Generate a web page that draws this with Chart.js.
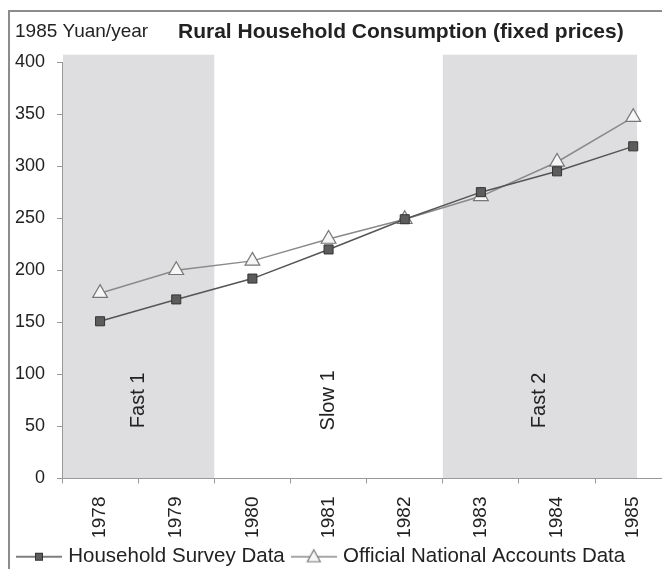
<!DOCTYPE html>
<html><head><meta charset="utf-8">
<script src="https://cdn.jsdelivr.net/npm/chart.js@4/dist/chart.umd.min.js"></script>
<style>
html,body{margin:0;padding:0;overflow:hidden;background:#fff;width:662px;height:569px;}
#frame{position:absolute;left:8px;top:10px;width:700px;height:600px;border:2px solid #8c8c8c;box-sizing:border-box;}
#c{position:absolute;left:0;top:0;}
</style></head><body>
<div id="frame"></div>
<canvas id="c" width="681" height="577"></canvas>
<script>
// ---- data ----
const years = ['1978','1979','1980','1981','1982','1983','1984','1985'];
const householdSurvey = [151, 172, 192, 220, 249, 275, 295, 319];
const officialAccounts = [178, 200, 209, 230, 249, 271, 304, 347];
const seriesNames = ['Household Survey Data', 'Official National Accounts Data'];
const yMin = 0, yMax = 400, yStep = 50;
const periodNames = ['Fast 1', 'Slow 1', 'Fast 2'];
const periodStart = [1977.5, 1979.5, 1982.5];
const periodEnd = [1979.5, 1982.5, 1985.05];
const periodShaded = [true, false, true];
const unitLabel = '1985 Yuan/year';
const titleText = 'Rural Household Consumption (fixed prices)';

// ---- styles ----
const FONT = '"Liberation Sans", Arial, sans-serif';
const TEXT = '#222';
const AXIS = '#999';
const SHADE = '#dedee0';

function legendIcon(kind) {
  const c = document.createElement('canvas');
  c.width = 46; c.height = 18;
  const g = c.getContext('2d');
  g.lineWidth = 1.5;
  g.strokeStyle = kind === 'rect' ? '#555' : '#8a8a8a';
  g.beginPath(); g.moveTo(0, 9); g.lineTo(46, 9); g.stroke();
  if (kind === 'rect') {
    g.fillStyle = '#5c5c5c'; g.strokeStyle = '#333'; g.lineWidth = 1;
    g.fillRect(19, 5, 8, 8); g.strokeRect(19.5, 5.5, 7, 7);
  } else {
    g.fillStyle = '#f6f6f6'; g.strokeStyle = '#777'; g.lineWidth = 1.2;
    g.beginPath(); g.moveTo(23, 2); g.lineTo(29.5, 14); g.lineTo(16.5, 14); g.closePath();
    g.fill(); g.stroke();
  }
  return c;
}
const icons = [legendIcon('rect'), legendIcon('triangle')];

const periodPlugin = {
  id: 'periods',
  beforeDraw(chart) {
    const {ctx, scales: {x, y}} = chart;
    const first = parseInt(years[0], 10);
    const top = y.getPixelForValue(407);
    const bottom = y.getPixelForValue(0);
    ctx.save();
    periodNames.forEach((name, i) => {
      const x0 = x.getPixelForValue(periodStart[i] - first);
      const x1 = x.getPixelForValue(periodEnd[i] - first);
      const left = Math.max(x0, chart.chartArea.left + 1);
      if (periodShaded[i]) {
        ctx.fillStyle = SHADE;
        ctx.fillRect(left, top, x1 - left, bottom - top);
      }
      const cx = (x0 + x1) / 2;
      const cy = y.getPixelForValue(75);
      ctx.save();
      ctx.translate(cx, cy);
      ctx.rotate(-Math.PI / 2);
      ctx.font = '20px ' + FONT;
      ctx.fillStyle = TEXT;
      ctx.textAlign = 'center';
      ctx.textBaseline = 'middle';
      ctx.fillText(name, 0, 0);
      ctx.restore();
    });
    ctx.restore();
  },
  afterDraw(chart) {
    const ctx = chart.ctx;
    ctx.save();
    ctx.fillStyle = TEXT;
    ctx.textBaseline = 'alphabetic';
    ctx.textAlign = 'left';
    ctx.font = '19px ' + FONT;
    ctx.fillText(unitLabel, 15, 37);
    ctx.font = 'bold 21px ' + FONT;
    ctx.fillText(titleText, 178, 38);
    ctx.restore();
  }
};

new Chart(document.getElementById('c'), {
  type: 'line',
  data: {
    labels: years,
    datasets: [
      {
        label: seriesNames[0], data: householdSurvey,
        borderColor: '#555', borderWidth: 1.5,
        pointStyle: 'rect', pointRadius: 6.4, pointHoverRadius: 6.4,
        pointBackgroundColor: '#5c5c5c', pointBorderColor: '#333', pointBorderWidth: 1,
        tension: 0
      },
      {
        label: seriesNames[1], data: officialAccounts,
        borderColor: '#8a8a8a', borderWidth: 1.5,
        pointStyle: 'triangle', pointRadius: 8.5, pointHoverRadius: 8.5,
        pointBackgroundColor: '#f6f6f6', pointBorderColor: '#777', pointBorderWidth: 1.2,
        tension: 0
      }
    ]
  },
  options: {
    responsive: false,
    animation: false,
    devicePixelRatio: 1,
    layout: { padding: { left: 10, top: 62, right: 0, bottom: 0 } },
    plugins: {
      title: { display: false },
      tooltip: { enabled: false },
      legend: {
        position: 'bottom',
        align: 'start',
        labels: {
          usePointStyle: true,
          pointStyleWidth: 38,
          padding: 10,
          color: TEXT,
          font: { family: FONT, size: 20.5 },
          generateLabels(chart) {
            return chart.data.datasets.map((ds, i) => ({
              text: ds.label, pointStyle: icons[i], datasetIndex: i,
              fontColor: TEXT, lineWidth: 0, strokeStyle: 'transparent', fillStyle: 'transparent', hidden: false
            }));
          }
        }
      }
    },
    scales: {
      x: {
        type: 'category',
        offset: true,
        grid: { offset: true, drawOnChartArea: false, drawTicks: true, tickLength: 5, color: AXIS },
        border: { display: true, color: AXIS, width: 1 },
        ticks: { autoSkip: false, maxRotation: 90, minRotation: 90, padding: 13, color: TEXT, font: { family: FONT, size: 19 } },
        afterFit(s) { s.height = 58; }
      },
      y: {
        min: yMin, max: yMax,
        grid: { drawOnChartArea: false, drawTicks: true, tickLength: 5, color: AXIS },
        border: { display: true, color: AXIS, width: 1 },
        ticks: { stepSize: yStep, padding: 12, color: TEXT, font: { family: FONT, size: 18 } },
        afterFit(s) { s.width = 52; }
      }
    }
  },
  plugins: [periodPlugin]
});
</script>
</body></html>
